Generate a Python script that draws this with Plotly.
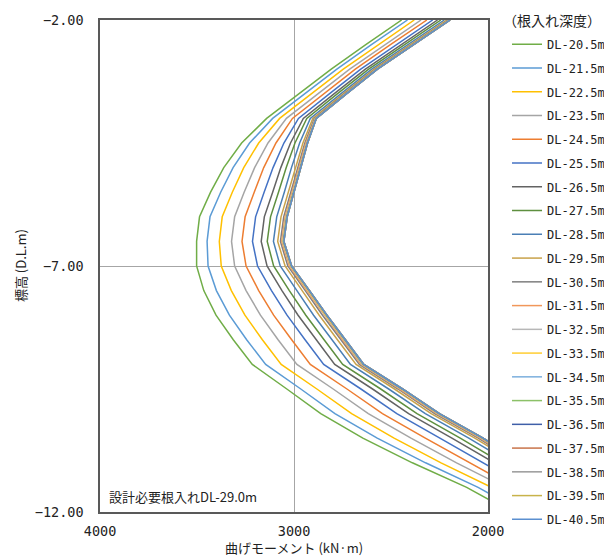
import plotly.graph_objects as go

# Elevation levels (D.L. m)
elev = [-2.0, -2.5, -3.0, -3.5, -4.0, -4.5, -5.0, -5.5, -6.0, -6.5, -7.0,
        -7.5, -8.0, -8.5, -9.0, -9.5, -10.0, -10.5, -11.0, -11.5, -12.0]

# Embedment depth labels
depth_labels = ["DL-20.5m", "DL-21.5m", "DL-22.5m", "DL-23.5m", "DL-24.5m",
                "DL-25.5m", "DL-26.5m", "DL-27.5m", "DL-28.5m", "DL-29.5m",
                "DL-30.5m", "DL-31.5m", "DL-32.5m", "DL-33.5m", "DL-34.5m",
                "DL-35.5m", "DL-36.5m", "DL-37.5m", "DL-38.5m", "DL-39.5m",
                "DL-40.5m"]

# Bending moment (kN·m) per series
m_205 = [2445, 2630, 2808, 2975, 3141, 3270, 3362, 3430, 3487, 3502, 3502, 3465, 3402, 3313, 3215, 3037, 2862, 2645, 2390, 2110, 1880]
m_215 = [2415, 2601, 2779, 2946, 3110, 3229, 3314, 3378, 3433, 3448, 3443, 3400, 3333, 3244, 3146, 2965, 2789, 2571, 2322, 2051, 1824]
m_225 = [2380, 2566, 2746, 2911, 3074, 3182, 3259, 3318, 3370, 3385, 3375, 3323, 3253, 3163, 3066, 2882, 2703, 2484, 2242, 1981, 1758]
m_235 = [2345, 2532, 2713, 2877, 3039, 3134, 3203, 3257, 3306, 3322, 3306, 3247, 3173, 3082, 2985, 2798, 2617, 2397, 2162, 1912, 1692]
m_245 = [2315, 2503, 2684, 2848, 3008, 3093, 3156, 3205, 3252, 3268, 3247, 3182, 3105, 3012, 2916, 2727, 2544, 2323, 2094, 1853, 1636]
m_255 = [2285, 2473, 2656, 2818, 2977, 3052, 3108, 3154, 3198, 3214, 3188, 3116, 3036, 2943, 2847, 2655, 2470, 2248, 2025, 1793, 1579]
m_265 = [2260, 2449, 2632, 2794, 2952, 3018, 3068, 3110, 3153, 3169, 3139, 3062, 2979, 2885, 2790, 2595, 2409, 2186, 1968, 1744, 1532]
m_275 = [2243, 2432, 2615, 2777, 2934, 2995, 3040, 3080, 3121, 3138, 3105, 3024, 2939, 2845, 2749, 2553, 2366, 2143, 1928, 1709, 1499]
m_285 = [2225, 2414, 2599, 2759, 2916, 2971, 3013, 3050, 3089, 3106, 3071, 2985, 2899, 2804, 2709, 2512, 2323, 2099, 1888, 1674, 1466]
m_295 = [2212, 2402, 2587, 2747, 2903, 2954, 2993, 3028, 3067, 3084, 3046, 2958, 2870, 2776, 2680, 2482, 2293, 2068, 1860, 1650, 1443]
m_305 = [2205, 2395, 2580, 2740, 2895, 2944, 2981, 3015, 3053, 3070, 3032, 2942, 2853, 2758, 2663, 2464, 2275, 2050, 1843, 1635, 1429]
m_315 = [2201, 2391, 2576, 2736, 2891, 2939, 2975, 3009, 3046, 3063, 3024, 2934, 2844, 2750, 2654, 2455, 2265, 2041, 1834, 1627, 1422]
m_325 = [2199, 2389, 2574, 2734, 2889, 2935, 2971, 3005, 3042, 3059, 3019, 2928, 2839, 2744, 2649, 2449, 2259, 2034, 1829, 1622, 1417]
m_335 = [2198, 2388, 2572, 2732, 2888, 2933, 2969, 3002, 3040, 3057, 3017, 2926, 2836, 2741, 2646, 2446, 2256, 2031, 1826, 1620, 1415]
m_345 = [2197, 2387, 2571, 2732, 2887, 2932, 2967, 3001, 3038, 3055, 3015, 2923, 2833, 2739, 2644, 2444, 2254, 2029, 1823, 1618, 1413]
m_355 = [2196, 2386, 2571, 2731, 2886, 2931, 2967, 3000, 3037, 3054, 3014, 2922, 2832, 2737, 2642, 2442, 2252, 2027, 1822, 1617, 1412]
m_365 = [2195, 2385, 2570, 2730, 2886, 2931, 2966, 2999, 3036, 3053, 3013, 2921, 2831, 2736, 2641, 2441, 2251, 2026, 1821, 1616, 1411]
m_375 = [2195, 2385, 2570, 2730, 2885, 2930, 2965, 2998, 3035, 3052, 3012, 2920, 2830, 2735, 2640, 2440, 2250, 2025, 1820, 1615, 1410]
m_385 = [2195, 2385, 2570, 2730, 2885, 2930, 2965, 2998, 3035, 3052, 3012, 2920, 2830, 2735, 2640, 2440, 2250, 2025, 1820, 1615, 1410]
m_395 = [2195, 2385, 2570, 2730, 2885, 2930, 2965, 2998, 3035, 3052, 3012, 2920, 2830, 2735, 2640, 2440, 2250, 2025, 1820, 1615, 1410]
m_405 = [2195, 2385, 2570, 2730, 2885, 2930, 2965, 2998, 3035, 3052, 3012, 2920, 2830, 2735, 2640, 2440, 2250, 2025, 1820, 1615, 1410]

series = [m_205, m_215, m_225, m_235, m_245, m_255, m_265, m_275, m_285, m_295,
          m_305, m_315, m_325, m_335, m_345, m_355, m_365, m_375, m_385, m_395, m_405]

colors = ["#70AD47", "#5B9BD5", "#FFC000", "#A5A5A5", "#ED7D31", "#4472C4",
          "#636363", "#5E8F3F", "#4A7FB5", "#C9A24A", "#7F7F7F", "#F1975A",
          "#B7B7B7", "#FFCD33", "#7CAFDD", "#8CC168", "#3F5FA8", "#C9744A",
          "#999999", "#C8B34A", "#5B8FD0"]

x_ticks = [4000, 3000, 2000]
y_ticks = [-12, -7, -2]

fig = go.Figure()
for i, (lab, vals) in enumerate(zip(depth_labels, series)):
    fig.add_trace(go.Scatter(
        x=vals, y=elev, mode="lines", name=lab, legendgroup=lab,
        line=dict(color=colors[i], width=1.5),
    ))

mono = "DejaVu Sans Mono, Noto Sans CJK JP"
cjk = "Noto Sans CJK JP, Noto Sans"

# The page body adds an 8px margin, so the figure is sized 8px smaller
fig.update_layout(
    width=604, height=549,
    margin=dict(l=92, r=124, t=12, b=45, autoexpand=False),
    paper_bgcolor="white", plot_bgcolor="white",
    showlegend=True,
    legend=dict(x=1.049, xanchor="left", y=0.980, yanchor="top",
                font=dict(family=mono, size=12, color="#222222"),
                tracegroupgap=4.75, bgcolor="rgba(0,0,0,0)",
                maxheight=540,
                itemclick=False, itemdoubleclick=False),
    xaxis=dict(range=[4000, 2000], tickvals=x_ticks, ticktext=[str(v) for v in x_ticks],
               showgrid=True, gridcolor="#A6A6A6", gridwidth=1, zeroline=False,
               showline=True, mirror=True, linecolor="#595959", linewidth=1.5,
               ticks="", ticklabelstandoff=6,
               tickfont=dict(family=mono, size=13.5, color="#222222")),
    yaxis=dict(range=[-12, -2], tickvals=y_ticks, tickformat=".2f",
               showgrid=True, gridcolor="#A6A6A6", gridwidth=1, zeroline=False,
               showline=True, mirror=True, linecolor="#595959", linewidth=1.5,
               ticks="", ticklabelstandoff=12,
               tickfont=dict(family=mono, size=13.5, color="#222222")),
    annotations=[
        dict(text="曲げモーメント (kN·m)", xref="paper", yref="paper", x=0.5, y=-0.073,
             xanchor="center", yanchor="middle", showarrow=False,
             font=dict(family=cjk, size=13, color="#222222")),
        dict(text="標高 (D.L.m)", xref="paper", yref="paper", x=-0.206, y=0.5,
             xanchor="center", yanchor="middle", textangle=-90, showarrow=False,
             font=dict(family=cjk, size=13, color="#222222")),
        dict(text="（根入れ深度）", xref="paper", yref="paper", x=1.165, y=1.0235,
             xanchor="center", yanchor="top", showarrow=False,
             font=dict(family=cjk, size=14, color="#222222")),
        dict(text="設計必要根入れDL-29.0m", xref="paper", yref="paper", x=0.018, y=0.0305,
             xanchor="left", yanchor="middle", showarrow=False,
             font=dict(family=cjk, size=13, color="#222222")),
    ],
)

fig.write_html("out.html")
